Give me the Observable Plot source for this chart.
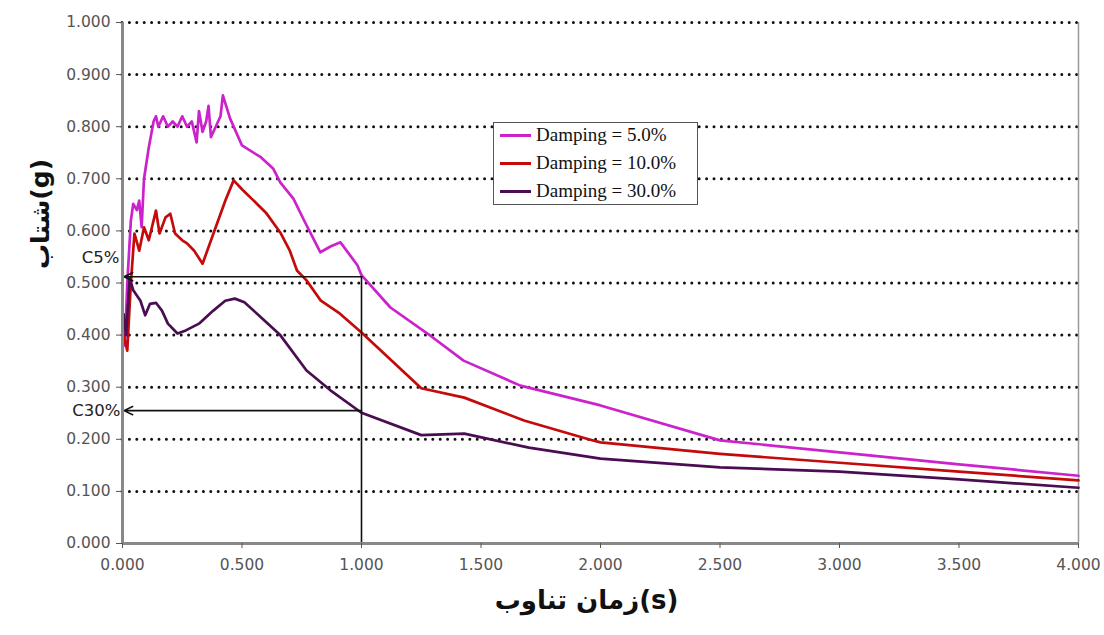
<!DOCTYPE html>
<html><head><meta charset="utf-8">
<script src="https://cdn.jsdelivr.net/npm/d3@7"></script>
<script src="https://cdn.jsdelivr.net/npm/@observablehq/plot@0.6"></script>
<style>
body{margin:0;background:#fff;}
#wrap{position:relative;width:1104px;height:635px;overflow:hidden;}
#legend{position:absolute;left:493px;top:122px;width:205px;height:83px;border:1.5px solid #555;background:#fff;box-sizing:border-box;font-family:"Liberation Serif",serif;font-size:19px;color:#111;}
.row{position:absolute;left:6px;height:24px;display:flex;align-items:center;white-space:nowrap;}
.sw{width:31px;height:3px;margin-right:5px;}
</style></head><body><div id="wrap"></div>
<script>
// ---- data ----
const seriesNames = ["Damping = 5.0%", "Damping = 10.0%", "Damping = 30.0%"];
const seriesColors = ["#cc22cc", "#c40a0a", "#4a0d52"];

const t5  = [0.000,0.010,0.020,0.035,0.045,0.060,0.070,0.080,0.090,0.110,0.130,0.140,0.150,0.170,0.190,0.210,0.230,0.250,0.270,0.290,0.310,0.320,0.335,0.350,0.360,0.370,0.390,0.410,0.420,0.450,0.500,0.580,0.630,0.660,0.715,0.760,0.828,0.870,0.912,0.983,1.000,1.121,1.276,1.427,1.665,2.000,2.500,3.000,3.500,4.000];
const sa5 = [0.400,0.380,0.500,0.620,0.652,0.640,0.658,0.607,0.700,0.760,0.810,0.820,0.800,0.820,0.800,0.810,0.800,0.820,0.800,0.810,0.770,0.830,0.790,0.810,0.840,0.780,0.800,0.820,0.860,0.816,0.764,0.741,0.720,0.693,0.662,0.620,0.559,0.570,0.578,0.534,0.515,0.453,0.403,0.351,0.303,0.265,0.198,0.175,0.152,0.130];

const t10  = [0.005,0.020,0.035,0.050,0.070,0.090,0.110,0.140,0.155,0.180,0.200,0.220,0.250,0.270,0.300,0.335,0.390,0.430,0.465,0.500,0.540,0.600,0.660,0.700,0.730,0.770,0.830,0.910,1.000,1.250,1.430,1.680,1.950,2.000,2.500,3.000,3.500,4.000];
const sa10 = [0.400,0.370,0.500,0.595,0.562,0.607,0.582,0.639,0.595,0.626,0.633,0.595,0.582,0.576,0.562,0.537,0.607,0.658,0.697,0.680,0.662,0.635,0.597,0.562,0.524,0.505,0.466,0.441,0.405,0.298,0.280,0.236,0.200,0.194,0.172,0.155,0.138,0.121];

const t30  = [0.005,0.015,0.030,0.045,0.075,0.095,0.115,0.140,0.165,0.190,0.230,0.265,0.320,0.380,0.430,0.470,0.510,0.580,0.660,0.770,0.870,1.000,1.250,1.430,1.700,2.000,2.500,3.000,3.500,4.000];
const sa30 = [0.440,0.400,0.510,0.486,0.466,0.438,0.460,0.462,0.447,0.422,0.403,0.409,0.422,0.447,0.466,0.470,0.463,0.434,0.400,0.332,0.294,0.251,0.208,0.211,0.184,0.163,0.146,0.138,0.123,0.107];

const yTicks = [0,0.1,0.2,0.3,0.4,0.5,0.6,0.7,0.8,0.9,1.0];
const xTicks = [0,0.5,1.0,1.5,2.0,2.5,3.0,3.5,4.0];
const gridLevels = [0.1,0.2,0.3,0.4,0.5,0.6,0.7,0.8,0.9,1.0];

const refPeriod = 1.0;
const cLabels = ["C5%", "C30%"];
const cValues = [0.512, 0.255];

const xLabel = "زمان تناوب(s)";
const yLabel = "شتاب(g)";

// ---- build tables ----
const rows = [];
[[t5,sa5],[t10,sa10],[t30,sa30]].forEach(([ts,vs],i)=>{
  ts.forEach((t,j)=>rows.push({series:seriesNames[i], t, sa:vs[j]}));
});
const cRows = cLabels.map((l,i)=>({label:l, y:cValues[i]}));

const plot = Plot.plot({
  width: 1104, height: 635,
  marginLeft: 122, marginRight: 26, marginTop: 22, marginBottom: 92,
  x: {domain:[0,4]},
  y: {domain:[0,1]},
  color: {domain: seriesNames, range: seriesColors},
  style: {background:"#fff", fontFamily:"DejaVu Sans"},
  marks: [
    Plot.ruleY(gridLevels, {stroke:"#111", strokeWidth:3, strokeDasharray:"0,7.4", strokeLinecap:"round"}),
    Plot.ruleX([4], {stroke:"#999", strokeWidth:1.5}),
    Plot.line(rows, {x:"t", y:"sa", z:"series", stroke:"series", strokeWidth:2.7}),
    // reference construction lines
    Plot.ruleX([refPeriod], {y1:0, y2:cValues[0], stroke:"#111", strokeWidth:1.6}),
    Plot.arrow(cRows, {x1:refPeriod, y1:"y", x2:0.006, y2:"y", stroke:"#111", strokeWidth:1.6, headLength:9, headAngle:50}),
    Plot.text(cRows.slice(0,1), {x:0, y:"y", text:"label", textAnchor:"end", dx:-3, dy:-19, fontSize:16.5, fill:"#222"}),
    Plot.text(cRows.slice(1), {x:0, y:"y", text:"label", textAnchor:"end", dx:-2, dy:0, fontSize:16.5, fill:"#222"}),
    // axes
    Plot.ruleX([0], {stroke:"#888", strokeWidth:3}),
    Plot.ruleY([0], {stroke:"#888", strokeWidth:3}),
    Plot.axisY({ticks:yTicks, tickFormat:d3.format(".3f"), tickSize:6, tickPadding:6, fontSize:15.5, color:"#555", label:null}),
    Plot.axisX({ticks:xTicks, tickFormat:d3.format(".3f"), tickSize:5, tickPadding:10, fontSize:15.5, color:"#555", label:null}),
    // axis titles
    Plot.text([yLabel], {frameAnchor:"left", dx:-82, dy:-14, rotate:-90, fontSize:25, fontWeight:"bold", fill:"#111"}),
    Plot.text([xLabel], {frameAnchor:"bottom", dx:-14, dy:65, fontSize:26, fontWeight:"bold", fill:"#111"})
  ]
});
const wrap = document.getElementById("wrap");
wrap.appendChild(plot);

// legend
const lg = document.createElement("div");
lg.id = "legend";
const rowTops = [0, 28, 56];
seriesNames.forEach((n,i)=>{
  const r = document.createElement("div");
  r.className = "row";
  r.style.top = rowTops[i] + "px";
  const sw = document.createElement("span");
  sw.className = "sw";
  sw.style.background = seriesColors[i];
  const tx = document.createElement("span");
  tx.textContent = n;
  r.appendChild(sw); r.appendChild(tx);
  lg.appendChild(r);
});
wrap.appendChild(lg);
</script>
</body></html>
